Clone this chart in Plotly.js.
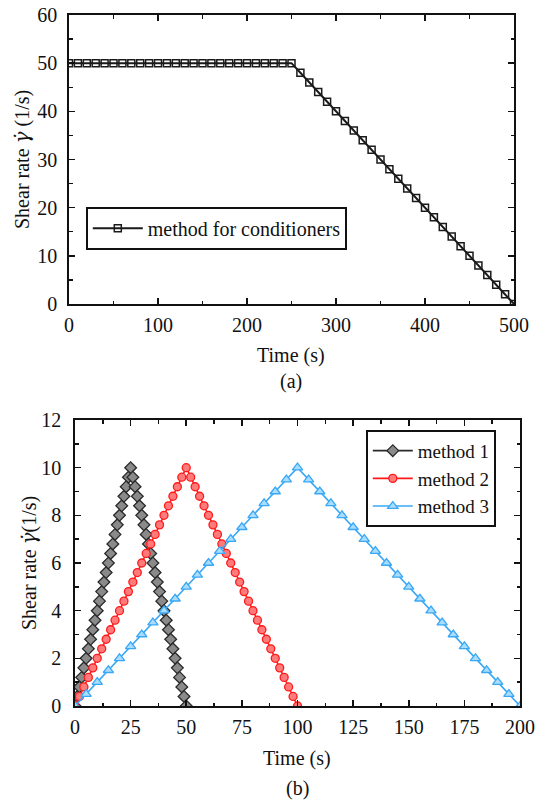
<!DOCTYPE html>
<html>
<head>
<meta charset="utf-8">
<script src="https://cdn.plot.ly/plotly-3.0.1.min.js"></script>
<style>html,body{margin:0;padding:0;background:#fff;}#chart{width:543px;height:802px;}</style>
</head>
<body>
<div id="chart"></div>
<script>
// ---- (a) method for conditioners ----
const condTime = [0,10,20,30,40,50,60,70,80,90,100,110,120,130,140,150,160,170,180,190,200,210,220,230,240,250,
  260,270,280,290,300,310,320,330,340,350,360,370,380,390,400,410,420,430,440,450,460,470,480,490,500];
const condRate = [50,50,50,50,50,50,50,50,50,50,50,50,50,50,50,50,50,50,50,50,50,50,50,50,50,50,
  48,46,44,42,40,38,36,34,32,30,28,26,24,22,20,18,16,14,12,10,8,6,4,2,0];

// ---- (b) methods 1-3 ----
const m1Time = [0,1,2,3,4,5,6,7,8,9,10,11,12,13,14,15,16,17,18,19,20,21,22,23,24,25,
  26,27,28,29,30,31,32,33,34,35,36,37,38,39,40,41,42,43,44,45,46,47,48,49,50];
const m1Rate = [0,0.4,0.8,1.2,1.6,2,2.4,2.8,3.2,3.6,4,4.4,4.8,5.2,5.6,6,6.4,6.8,7.2,7.6,8,8.4,8.8,9.2,9.6,10,
  9.6,9.2,8.8,8.4,8,7.6,7.2,6.8,6.4,6,5.6,5.2,4.8,4.4,4,3.6,3.2,2.8,2.4,2,1.6,1.2,0.8,0.4,0];
const m2Time = [0,2,4,6,8,10,12,14,16,18,20,22,24,26,28,30,32,34,36,38,40,42,44,46,48,50,
  52,54,56,58,60,62,64,66,68,70,72,74,76,78,80,82,84,86,88,90,92,94,96,98,100];
const m2Rate = [0,0.4,0.8,1.2,1.6,2,2.4,2.8,3.2,3.6,4,4.4,4.8,5.2,5.6,6,6.4,6.8,7.2,7.6,8,8.4,8.8,9.2,9.6,10,
  9.6,9.2,8.8,8.4,8,7.6,7.2,6.8,6.4,6,5.6,5.2,4.8,4.4,4,3.6,3.2,2.8,2.4,2,1.6,1.2,0.8,0.4,0];
const m3Time = [0,5,10,15,20,25,30,35,40,45,50,55,60,65,70,75,80,85,90,95,100,
  105,110,115,120,125,130,135,140,145,150,155,160,165,170,175,180,185,190,195,200];
const m3Rate = [0,0.5,1,1.5,2,2.5,3,3.5,4,4.5,5,5.5,6,6.5,7,7.5,8,8.5,9,9.5,10,
  9.5,9,8.5,8,7.5,7,6.5,6,5.5,5,4.5,4,3.5,3,2.5,2,1.5,1,0.5,0];

const GAMMA = '<span style="font-family:DejaVu Serif"><i>γ̇</i></span>';
const labelsA = {x: 'Time (s)', y: 'Shear rate ' + GAMMA + ' (1/s)', cap: '(a)'};
const labelsB = {x: 'Time (s)', y: 'Shear rate ' + GAMMA + '(1/s)', cap: '(b)'};
const names = ['method for conditioners', 'method 1', 'method 2', 'method 3'];

const W = 543, H = 802;
const FONT = 'Liberation Serif';
const px = v => v / W;
const py = v => 1 - v / H;

const traces = [
  {x: condTime, y: condRate, name: names[0], xaxis: 'x', yaxis: 'y', legend: 'legend',
   mode: 'lines+markers', line: {color: '#1a1a1a', width: 2},
   marker: {symbol: 'square-open', size: 7, color: '#1a1a1a', line: {width: 1.5, color: '#1a1a1a'}}},
  {x: m1Time, y: m1Rate, name: names[1], xaxis: 'x2', yaxis: 'y2', legend: 'legend2',
   mode: 'lines+markers', line: {color: '#2a2a2a', width: 1.6},
   marker: {symbol: 'diamond', size: 9, color: '#8a8a8a', line: {width: 1.3, color: '#2a2a2a'}}},
  {x: m2Time, y: m2Rate, name: names[2], xaxis: 'x2', yaxis: 'y2', legend: 'legend2',
   mode: 'lines+markers', line: {color: '#ff1a1a', width: 1.6},
   marker: {symbol: 'circle', size: 8, color: '#ff7a7a', line: {width: 1.3, color: '#ff1a1a'}}},
  {x: m3Time, y: m3Rate, name: names[3], xaxis: 'x2', yaxis: 'y2', legend: 'legend2',
   mode: 'lines+markers', line: {color: '#3aa8f5', width: 1.6},
   marker: {symbol: 'triangle-up', size: 9, color: '#a8ddff', line: {width: 1.3, color: '#3aa8f5'}}}
];

function axis(domain, range, dtick, minorDtick, anchor) {
  return {
    domain: domain, range: range, anchor: anchor, dtick: dtick, tick0: 0,
    showgrid: false, zeroline: false, showline: true, linecolor: '#111', linewidth: 1.8,
    mirror: 'allticks', ticks: 'inside', ticklen: 6, tickwidth: 1.6, tickcolor: '#111',
    minor: {dtick: minorDtick, tick0: 0, ticks: 'inside', ticklen: 3.5, tickwidth: 1.4, tickcolor: '#111'},
    tickfont: {family: FONT, size: 20, color: '#111'}, automargin: false, fixedrange: true
  };
}

function ann(text, x, y, size, angle) {
  return {text: text, x: px(x), y: py(y), xref: 'paper', yref: 'paper', showarrow: false,
    xanchor: 'center', yanchor: 'middle', textangle: angle || 0,
    font: {family: FONT, size: size, color: '#111'}};
}

const layout = {
  width: W, height: H,
  margin: {l: 0, r: 0, t: 0, b: 0},
  paper_bgcolor: '#fff', plot_bgcolor: '#fff',
  font: {family: FONT, size: 20, color: '#111'},
  xaxis: Object.assign(axis([px(69), px(514)], [0, 500], 100, 50, 'y'), {ticklabelstandoff: 2}),
  yaxis: Object.assign(axis([py(304), py(15)], [0, 60], 10, 5, 'x'), {ticklabelstandoff: 6}),
  xaxis2: Object.assign(axis([px(75), px(520)], [0, 200], 25, 12.5, 'y2'), {ticklabelstandoff: 2}),
  yaxis2: Object.assign(axis([py(706), py(420)], [0, 12], 2, 1, 'x2'), {ticklabelstandoff: 8}),
  legend: {x: px(86), y: py(207), xanchor: 'left', yanchor: 'top', bgcolor: '#fff',
    bordercolor: '#111', borderwidth: 1.8, font: {family: FONT, size: 20, color: '#111'},
    itemwidth: 50, tracegroupgap: 0},
  legend2: {x: px(366), y: py(430), xanchor: 'left', yanchor: 'top', bgcolor: '#fff',
    bordercolor: '#111', borderwidth: 1.8, font: {family: FONT, size: 19, color: '#111'},
    itemwidth: 40, tracegroupgap: 0},
  showlegend: true,
  annotations: [
    ann(labelsA.x, 291, 355, 20),
    ann(labelsA.y, 22, 160, 20, -90),
    ann(labelsA.cap, 291, 381, 20),
    ann(labelsB.x, 297, 758, 20),
    ann(labelsB.y, 29, 563, 20, -90),
    ann(labelsB.cap, 297, 788, 20)
  ]
};

Plotly.newPlot('chart', traces, layout, {staticPlot: true, displayModeBar: false});
</script>
</body>
</html>
